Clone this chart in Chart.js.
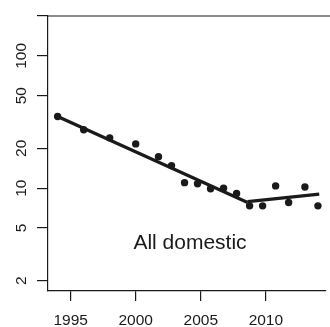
<!DOCTYPE html>
<html>
<head>
<meta charset="utf-8">
<script src="https://cdn.jsdelivr.net/npm/chart.js@4.4.0/dist/chart.umd.min.js"></script>
<style>
  html, body { margin: 0; padding: 0; background: #fff; }
  #wrap { width: 330px; height: 327px; }
</style>
</head>
<body>
<div id="wrap"><canvas id="domChart"></canvas></div>
<script>
var years = [1994, 1996, 1998, 2000, 2001.75, 2002.75, 2003.75, 2004.75, 2005.75, 2006.75, 2007.75, 2008.75, 2009.75, 2010.75, 2011.75, 2013, 2014];
var values = [34.8, 27.6, 24.0, 21.6, 17.3, 14.8, 11.0, 10.8, 9.9, 10.0, 9.1, 7.35, 7.35, 10.4, 7.8, 10.2, 7.35];

// fitted piecewise trend
var fit1X = [1994, 2008.6];
var fit1Y = [34.8, 7.8];
var fit2X = [2008.6, 2014.1];
var fit2Y = [7.9, 9.0];

var xTicks = [1995, 2000, 2005, 2010];
var yTicks = [2, 5, 10, 20, 50, 100, 200];
var yTickLabels = ['2', '5', '10', '20', '50', '100', ''];

var ink = '#1a1a1a';
var font = 'Liberation Sans, Arial, sans-serif';

function toXY(xs, ys) {
    return xs.map(function (x, i) { return { x: x, y: ys[i] }; });
}

// top frame line + annotation text
const framePlugin = {
    id: 'frame',
    afterDraw(chart) {
        const c = chart.ctx;
        const a = chart.chartArea;
        c.save();
        c.strokeStyle = ink;
        c.lineWidth = 1.2;
        c.beginPath();
        c.moveTo(a.left, a.top);
        c.lineTo(chart.width, a.top);
        c.stroke();
        c.fillStyle = ink;
        c.font = '21px ' + font;
        c.textAlign = 'center';
        c.textBaseline = 'alphabetic';
        c.fillText('All domestic', 190, 249);
        c.restore();
    }
};

const ctx = document.getElementById('domChart');
const chart = new Chart(ctx, {
    type: 'scatter',
    data: {
        datasets: [{
            label: 'observed',
            data: toXY(years, values),
            backgroundColor: ink,
            borderColor: ink,
            pointRadius: 3.7,
            pointBorderWidth: 0
        }, {
            type: 'line',
            label: 'fit1',
            data: toXY(fit1X, fit1Y),
            borderColor: ink,
            borderWidth: 3.3,
            pointRadius: 0,
            fill: false
        }, {
            type: 'line',
            label: 'fit2',
            data: toXY(fit2X, fit2Y),
            borderColor: ink,
            borderWidth: 3.3,
            pointRadius: 0,
            fill: false
        }]
    },
    options: {
        responsive: true,
        maintainAspectRatio: false,
        animation: false,
        layout: { padding: { top: 16, left: 0, right: 0, bottom: 0 } },
        plugins: { legend: { display: false }, tooltip: { enabled: false } },
        scales: {
            x: {
                type: 'linear',
                min: 1993.26,
                max: 2014.62,
                afterBuildTicks: function (s) { s.ticks = xTicks.map(function (v) { return { value: v }; }); },
                afterFit: function (s) { s.height = 36; },
                grid: { drawOnChartArea: false, drawTicks: true, tickLength: 10, color: ink, lineWidth: 1.2 },
                border: { display: true, color: ink, width: 1.2 },
                ticks: {
                    color: ink,
                    font: { family: font, size: 15.5 },
                    padding: 10,
                    maxRotation: 0,
                    callback: function (v) { return String(v); }
                }
            },
            y: {
                type: 'logarithmic',
                min: 1.67,
                max: 200,
                afterBuildTicks: function (s) { s.ticks = yTicks.map(function (v) { return { value: v }; }); },
                afterFit: function (s) { s.width = 48; },
                grid: { drawOnChartArea: false, drawTicks: true, tickLength: 11, color: ink, lineWidth: 1.2 },
                border: { display: true, color: ink, width: 1.2 },
                ticks: {
                    color: ink,
                    font: { family: font, size: 15.5 },
                    padding: 2,
                    minRotation: 90,
                    maxRotation: 90,
                    crossAlign: 'center',
                    callback: function (v, i) { return yTickLabels[i]; }
                }
            }
        }
    },
    plugins: [framePlugin]
});
</script>
</body>
</html>
